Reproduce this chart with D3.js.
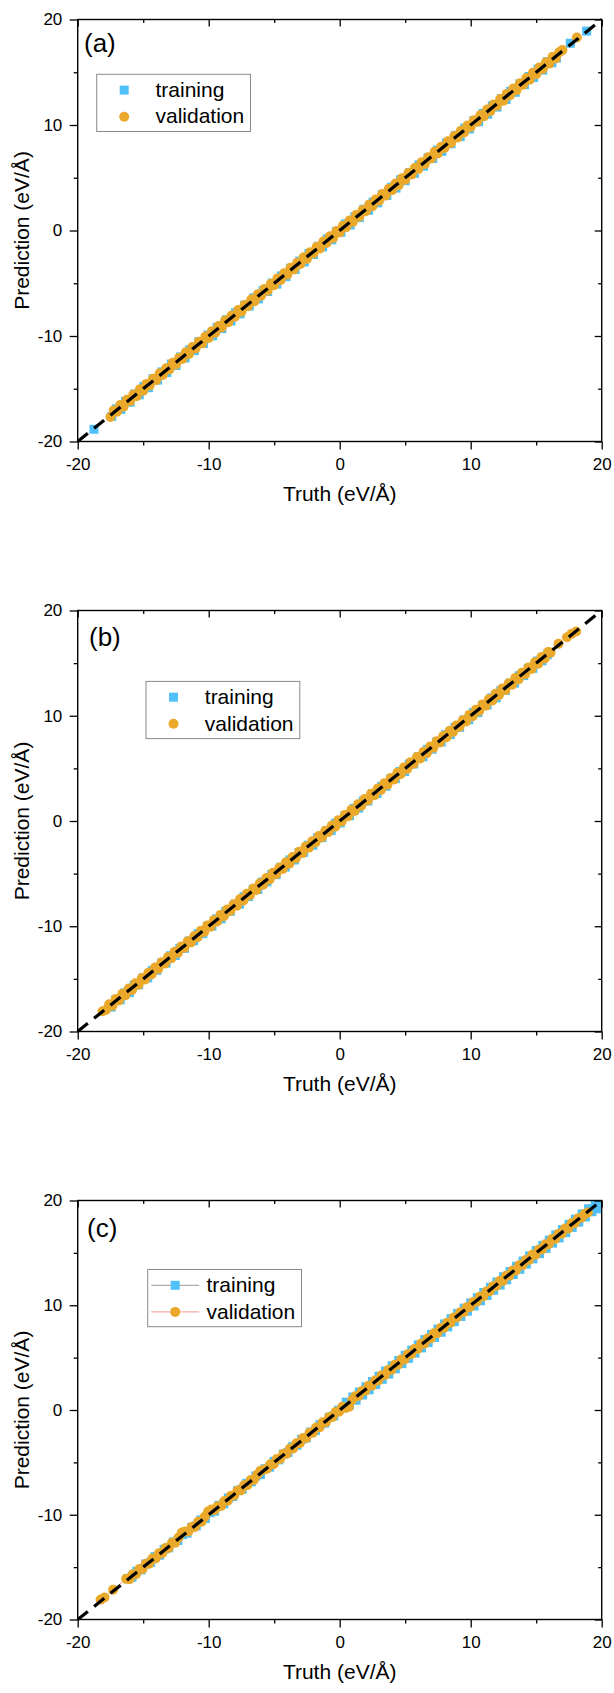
<!DOCTYPE html>
<html><head><meta charset="utf-8">
<script src="https://cdn.jsdelivr.net/npm/d3@7"></script>
<style>
body{margin:0;background:#fff}
svg{display:block}
text{font-family:"Liberation Sans",Arial,Helvetica,sans-serif;fill:#000}
</style>
</head><body>
<svg id="chart" width="614" height="1693"></svg>
<script>
// ---------- data ----------
const majorTicks=[-20,-10,0,10,20];
const minorTicks=[-15,-5,5,15];
const seriesNames=["training","validation"];
const panelLabels=["(a)","(b)","(c)"];
const xTitle="Truth (eV/Å)";
const yTitle="Prediction (eV/Å)";

// [truth, prediction]
const trainingA=[[-18.76,-18.84],
[-17.4,-17.62],[-17.05,-16.9],[-16.7,-16.95],[-16.35,-16.2],[-16.0,-16.28],[-15.65,-15.5],[-15.3,-15.58],[-14.95,-14.78],[-14.6,-14.9],[-14.25,-14.05],[-13.9,-14.18],[-13.55,-13.4],[-13.2,-13.46],[-12.85,-12.66],[-12.5,-12.8],[-12.15,-11.98],[-11.8,-12.08],[-11.45,-11.3],[-11.1,-11.38],[-10.75,-10.55],[-10.4,-10.7],[-10.05,-9.9],[-9.7,-9.98],[-9.35,-9.18],[-9.0,-9.3],[-8.65,-8.46],[-8.3,-8.58],[-7.95,-7.8],[-7.6,-7.9],[-7.25,-7.08],[-6.9,-7.16],[-6.55,-6.38],[-6.2,-6.48],[-5.85,-5.7],[-5.5,-5.78],[-5.15,-4.98],[-4.8,-5.08],[-4.45,-4.3],[-4.1,-4.38],[-3.75,-3.58],[-3.4,-3.68],[-3.05,-2.9],[-2.7,-2.98],[-2.35,-2.18],[-2.0,-2.28],[-1.65,-1.5],[-1.3,-1.56],[-0.95,-0.8],[-0.6,-0.88],[-0.25,-0.1],[0.1,-0.16],[0.45,0.62],[0.8,0.52],[1.15,1.3],[1.5,1.22],[1.85,2.02],[2.2,1.92],[2.55,2.7],[2.9,2.62],[3.25,3.42],[3.6,3.32],[3.95,4.1],[4.3,4.02],[4.65,4.82],[5.0,4.72],[5.35,5.5],[5.7,5.42],[6.05,6.22],[6.4,6.1],[6.75,6.9],[7.1,6.82],[7.45,7.62],[7.8,7.5],[8.15,8.3],[8.5,8.22],[8.85,9.02],[9.2,8.9],[9.55,9.7],[9.9,9.62],[10.25,10.42],[10.6,10.3],[10.95,11.1],[11.3,11.02],[11.65,11.82],[12.0,11.7],[12.35,12.5],[12.7,12.42],[13.05,13.2],[13.4,13.1],[13.75,13.9],[14.1,13.82],[14.45,14.6],[14.8,14.5],[15.15,15.3],[15.5,15.2],[15.85,16.0],[16.2,15.9],[16.55,16.35],
[17.6,17.75],[18.85,18.9]];

const validationA=[[-17.5,-17.68],
[-17.25,-17.05],[-17.0,-17.18],[-16.75,-16.54],[-16.5,-16.7],[-16.25,-16.05],[-16.0,-16.18],[-15.75,-15.54],[-15.5,-15.7],
[-15.25,-15.05],[-15.0,-15.18],[-14.75,-14.54],[-14.5,-14.7],[-14.25,-14.05],[-14.0,-14.18],[-13.75,-13.54],[-13.5,-13.7],
[-13.25,-13.05],[-13.0,-13.18],[-12.75,-12.54],[-12.5,-12.7],[-12.25,-12.05],[-12.0,-12.18],[-11.75,-11.54],[-11.5,-11.7],
[-11.25,-11.05],[-11.0,-11.18],[-10.75,-10.54],[-10.5,-10.7],[-10.25,-10.05],[-10.0,-10.18],[-9.75,-9.54],[-9.5,-9.7],
[-9.25,-9.05],[-9.0,-9.18],[-8.75,-8.54],[-8.5,-8.7],[-8.25,-8.05],[-8.0,-8.18],[-7.75,-7.54],[-7.5,-7.7],
[-7.25,-7.05],[-7.0,-7.18],[-6.75,-6.54],[-6.5,-6.7],[-6.25,-6.05],[-6.0,-6.18],[-5.75,-5.54],[-5.5,-5.7],
[-5.25,-5.05],[-5.0,-5.18],[-4.75,-4.54],[-4.5,-4.7],[-4.25,-4.05],[-4.0,-4.18],[-3.75,-3.54],[-3.5,-3.7],
[-3.25,-3.05],[-3.0,-3.18],[-2.75,-2.54],[-2.5,-2.7],[-2.25,-2.05],[-2.0,-2.18],[-1.75,-1.54],[-1.5,-1.7],
[-1.25,-1.05],[-1.0,-1.18],[-0.75,-0.54],[-0.5,-0.7],[-0.25,-0.05],[0.0,-0.18],[0.25,0.46],[0.5,0.3],
[0.75,0.95],[1.0,0.82],[1.25,1.46],[1.5,1.3],[1.75,1.95],[2.0,1.82],[2.25,2.46],[2.5,2.3],
[2.75,2.95],[3.0,2.82],[3.25,3.46],[3.5,3.3],[3.75,3.95],[4.0,3.82],[4.25,4.46],[4.5,4.3],
[4.75,4.95],[5.0,4.82],[5.25,5.46],[5.5,5.3],[5.75,5.95],[6.0,5.82],[6.25,6.46],[6.5,6.3],
[6.75,6.95],[7.0,6.82],[7.25,7.46],[7.5,7.3],[7.75,7.95],[8.0,7.82],[8.25,8.46],[8.5,8.3],
[8.75,8.95],[9.0,8.82],[9.25,9.46],[9.5,9.3],[9.75,9.95],[10.0,9.82],[10.25,10.46],[10.5,10.3],
[10.75,10.95],[11.0,10.82],[11.25,11.46],[11.5,11.3],[11.75,11.95],[12.0,11.82],[12.25,12.46],[12.5,12.3],
[12.75,12.95],[13.0,12.82],[13.25,13.46],[13.5,13.3],[13.75,13.95],[14.0,13.82],[14.25,14.46],[14.5,14.3],
[14.75,14.95],[15.0,14.82],[15.25,15.46],[15.5,15.3],[15.75,15.95],[16.0,15.82],[16.25,16.46],[16.5,16.3],
[16.75,16.9],[17.0,17.1],[18.1,18.3]];

const trainingB=[[-17.45,-17.68],[-17.1,-17.0],[-16.75,-16.98],[-16.4,-16.32],[-16.05,-16.3],[-15.7,-15.6],[-15.35,-15.56],[-15.0,-14.9],[-14.65,-14.9],[-14.3,-14.2],[-13.95,-14.18],[-13.6,-13.5],[-13.25,-13.5],[-12.9,-12.8],[-12.55,-12.78],[-12.2,-12.1],[-11.85,-12.1],[-11.5,-11.4],[-11.15,-11.38],[-10.8,-10.7],[-10.45,-10.7],[-10.1,-10.0],[-9.75,-9.98],[-9.4,-9.3],[-9.05,-9.3],[-8.7,-8.6],[-8.35,-8.58],[-8.0,-7.9],[-7.65,-7.9],[-7.3,-7.2],[-6.95,-7.18],[-6.6,-6.5],[-6.25,-6.5],[-5.9,-5.8],[-5.55,-5.78],[-5.2,-5.1],[-4.85,-5.1],[-4.5,-4.4],[-4.15,-4.38],[-3.8,-3.7],[-3.45,-3.7],[-3.1,-3.0],[-2.75,-2.98],[-2.4,-2.3],[-2.05,-2.3],[-1.7,-1.6],[-1.35,-1.58],[-1.0,-0.9],[-0.65,-0.9],[-0.3,-0.2],[0.05,-0.18],[0.4,0.5],[0.75,0.5],[1.1,1.2],[1.45,1.22],[1.8,1.9],[2.15,1.9],[2.5,2.6],[2.85,2.62],[3.2,3.3],[3.55,3.3],[3.9,4.0],[4.25,4.02],[4.6,4.7],[4.95,4.7],[5.3,5.4],[5.65,5.42],[6.0,6.1],[6.35,6.1],[6.7,6.8],[7.05,6.82],[7.4,7.5],[7.75,7.5],[8.1,8.2],[8.45,8.22],[8.8,8.9],[9.15,8.9],[9.5,9.6],[9.85,9.62],[10.2,10.3],[10.55,10.3],[10.9,11.0],[11.25,11.02],[11.6,11.7],[11.95,11.7],[12.3,12.4],[12.65,12.42],[13.0,13.1],[13.35,13.1],[13.7,13.8],[14.05,13.82],[14.4,14.5],[14.75,14.5],[15.1,15.2],[15.45,15.22],[15.85,15.8]];

const validationB=[[-18.1,-18.08],[-17.85,-17.95],[-17.6,-17.42],[-17.35,-17.55],[-17.1,-16.92],[-16.85,-17.05],[-16.6,-16.42],[-16.35,-16.55],[-16.1,-15.92],[-15.85,-16.05],[-15.6,-15.42],[-15.35,-15.55],[-15.1,-14.92],[-14.85,-15.05],[-14.6,-14.42],[-14.35,-14.55],[-14.1,-13.92],[-13.85,-14.05],[-13.6,-13.42],[-13.35,-13.55],[-13.1,-12.92],[-12.85,-13.05],[-12.6,-12.42],[-12.35,-12.55],[-12.1,-11.92],[-11.85,-12.05],[-11.6,-11.42],[-11.35,-11.55],[-11.1,-10.92],[-10.85,-11.05],[-10.6,-10.42],[-10.35,-10.55],[-10.1,-9.92],[-9.85,-10.05],[-9.6,-9.42],[-9.35,-9.55],[-9.1,-8.92],[-8.85,-9.05],[-8.6,-8.42],[-8.35,-8.55],[-8.1,-7.92],[-7.85,-8.05],[-7.6,-7.42],[-7.35,-7.55],[-7.1,-6.92],[-6.85,-7.05],[-6.6,-6.42],[-6.35,-6.55],[-6.1,-5.92],[-5.85,-6.05],[-5.6,-5.42],[-5.35,-5.55],[-5.1,-4.92],[-4.85,-5.05],[-4.6,-4.42],[-4.35,-4.55],[-4.1,-3.92],[-3.85,-4.05],[-3.6,-3.42],[-3.35,-3.55],[-3.1,-2.92],[-2.85,-3.05],[-2.6,-2.42],[-2.35,-2.55],[-2.1,-1.92],[-1.85,-2.05],[-1.6,-1.42],[-1.35,-1.55],[-1.1,-0.92],[-0.85,-1.05],[-0.6,-0.42],[-0.35,-0.55],[-0.1,0.08],[0.15,-0.05],[0.4,0.58],[0.65,0.45],[0.9,1.08],[1.15,0.95],[1.4,1.58],[1.65,1.45],[1.9,2.08],[2.15,1.95],[2.4,2.58],[2.65,2.45],[2.9,3.08],[3.15,2.95],[3.4,3.58],[3.65,3.45],[3.9,4.08],[4.15,3.95],[4.4,4.58],[4.65,4.45],[4.9,5.08],[5.15,4.95],[5.4,5.58],[5.65,5.45],[5.9,6.08],[6.15,5.95],[6.4,6.58],[6.65,6.45],[6.9,7.08],[7.15,6.95],[7.4,7.58],[7.65,7.45],[7.9,8.08],[8.15,7.95],[8.4,8.58],[8.65,8.45],[8.9,9.08],[9.15,8.95],[9.4,9.58],[9.65,9.45],[9.9,10.08],[10.15,9.95],[10.4,10.58],[10.65,10.45],[10.9,11.08],[11.15,10.95],[11.4,11.58],[11.65,11.45],[11.9,12.08],[12.15,11.95],[12.4,12.58],[12.65,12.45],[12.9,13.08],[13.15,12.95],[13.4,13.58],[13.65,13.45],[13.9,14.08],[14.15,13.95],[14.4,14.58],[14.65,14.45],[14.9,15.08],[15.15,14.95],[15.4,15.58],[15.65,15.45],[15.9,16.05],[16.1,16.0],[16.7,16.83],[17.35,17.45],[17.7,17.78],[18.05,18.0]];

const trainingC=[[-16.2,-16.1],[-15.85,-15.95],[-15.5,-15.4],[-15.15,-15.26],[-14.8,-14.7],[-14.45,-14.56],[-14.1,-14.0],[-13.75,-13.86],[-13.4,-13.3],[-13.05,-13.16],[-12.7,-12.6],[-12.35,-12.46],[-12.0,-11.9],[-11.65,-11.76],[-11.3,-11.2],[-10.95,-11.06],[-10.6,-10.5],[-10.25,-10.36],[-9.9,-9.8],[-9.55,-9.66],[-9.2,-9.1],[-8.85,-8.96],[-8.5,-8.4],[-8.15,-8.26],[-7.8,-7.7],[-7.45,-7.56],[-7.1,-7.0],[-6.75,-6.86],[-6.4,-6.3],[-6.05,-6.16],[-5.7,-5.6],[-5.35,-5.46],[-5.0,-4.9],[-4.65,-4.76],[-4.3,-4.2],[-3.95,-4.06],[-3.6,-3.5],[-3.25,-3.36],[-2.9,-2.8],[-2.55,-2.66],[-2.2,-2.1],[-1.85,-1.96],[-1.5,-1.4],[-1.15,-1.26],[-0.8,-0.7],[-0.45,-0.56],[-0.1,-0.02],
[0.25,0.2],[0.5,0.75],[0.75,0.45],[1.0,1.24],[1.25,0.93],[1.5,1.72],[1.75,1.43],[2.0,2.22],[2.25,1.93],[2.5,2.72],[2.75,2.43],[3.0,3.22],[3.25,2.93],[3.5,3.72],[3.75,3.43],[4.0,4.22],[4.25,3.93],[4.5,4.72],[4.75,4.43],[5.0,5.22],[5.25,4.93],[5.5,5.72],[5.75,5.43],[6.0,6.22],[6.25,5.93],[6.5,6.72],[6.75,6.43],[7.0,7.22],[7.25,6.93],[7.5,7.72],[7.75,7.43],[8.0,8.22],[8.25,7.93],[8.5,8.72],[8.75,8.43],[9.0,9.22],[9.25,8.93],[9.5,9.72],[9.75,9.43],[10.0,10.22],[10.25,9.93],[10.5,10.72],[10.75,10.43],[11.0,11.22],[11.25,10.93],[11.5,11.72],[11.75,11.43],[12.0,12.22],[12.25,11.93],[12.5,12.72],[12.75,12.43],[13.0,13.22],[13.25,12.93],[13.5,13.72],[13.75,13.43],[14.0,14.22],[14.25,13.93],[14.5,14.72],[14.75,14.43],[15.0,15.22],[15.25,14.93],[15.5,15.72],[15.75,15.43],[16.0,16.22],[16.25,15.93],[16.5,16.72],[16.75,16.43],[17.0,17.22],[17.25,16.93],[17.5,17.72],[17.75,17.43],[18.0,18.22],[18.25,17.93],[18.5,18.72],[18.75,18.43],[19.0,19.22],[19.25,18.93],[19.5,19.72],[19.75,19.43],[19.95,19.8],[19.9,19.2]];

const validationC=[[-18.25,-18.1],[-17.95,-17.9],[-17.3,-17.15],
[-16.3,-16.12],[-16.05,-16.15],[-15.8,-15.68],[-15.55,-15.67],[-15.3,-15.18],[-15.05,-15.17],[-14.8,-14.68],[-14.55,-14.67],[-14.3,-14.18],[-14.05,-14.17],[-13.8,-13.68],[-13.55,-13.67],[-13.3,-13.18],[-13.05,-13.17],[-12.8,-12.68],[-12.55,-12.67],[-12.3,-12.18],[-12.05,-11.7],[-11.8,-11.6],[-11.55,-11.6],[-11.3,-11.18],[-11.05,-11.17],[-10.8,-10.68],[-10.55,-10.67],[-10.3,-10.18],[-10.05,-9.7],[-9.8,-9.5],[-9.55,-9.55],[-9.3,-9.18],[-9.05,-9.17],[-8.8,-8.68],[-8.55,-8.67],[-8.3,-8.18],[-8.05,-8.17],[-7.8,-7.68],[-7.55,-7.67],[-7.3,-7.18],[-7.05,-7.17],[-6.8,-6.68],[-6.55,-6.67],[-6.3,-6.18],[-6.05,-5.8],[-5.8,-5.7],[-5.55,-5.6],[-5.3,-5.18],[-5.05,-5.17],[-4.8,-4.68],[-4.55,-4.67],[-4.3,-4.18],[-4.05,-4.17],[-3.8,-3.68],[-3.55,-3.67],[-3.3,-3.18],[-3.05,-3.17],[-2.8,-2.68],[-2.55,-2.67],[-2.3,-2.18],[-2.05,-2.17],[-1.8,-1.68],[-1.55,-1.67],[-1.3,-1.18],[-1.05,-1.17],[-0.8,-0.68],[-0.55,-0.67],[-0.3,-0.18],[-0.05,-0.17],[0.2,0.32],[0.45,0.2],[0.7,0.3],[0.95,0.95],[1.2,1.32],[1.45,1.33],[1.7,1.82],[1.95,1.83],[2.2,2.32],[2.45,2.33],[2.7,2.82],[2.95,2.83],[3.2,3.32],[3.45,3.33],[3.7,3.82],[3.95,3.83],[4.2,4.32],[4.45,4.33],[4.7,4.82],[4.95,4.83],[5.2,5.32],[5.45,5.33],[5.7,5.82],[5.95,5.83],[6.2,6.32],[6.45,6.33],[6.7,6.82],[6.95,6.83],[7.2,7.32],[7.45,7.33],[7.7,7.82],[7.95,7.83],[8.2,8.32],[8.45,8.33],[8.7,8.82],[8.95,8.83],[9.2,9.32],[9.45,9.33],[9.7,9.82],[9.95,9.83],[10.2,10.32],[10.45,10.33],[10.7,10.82],[10.95,10.83],[11.2,11.32],[11.45,11.33],[11.7,11.82],[11.95,11.83],[12.2,12.32],[12.45,12.33],[12.7,12.82],[12.95,12.83],[13.2,13.32],[13.45,13.33],[13.7,13.82],[13.95,13.83],[14.2,14.32],[14.45,14.33],[14.7,14.82],[14.95,14.83],[15.2,15.32],[15.45,15.33],[15.7,15.82],[15.95,15.83],[16.2,16.32],[16.45,16.33],[16.7,16.82],[16.95,16.83],[17.2,17.32],[17.45,17.33],[17.7,17.82],[17.95,17.83],[18.2,18.3],[18.45,18.35],[18.7,18.7],[18.95,18.85]];

// ---------- styling ----------
const BLUE="#4FC1F8", ORANGE="#EBA92B";
const TRAIN_LINE="#8f8f8f", VAL_LINE="#F08A8A";

const panels=[
 {key:"a",label:panelLabels[0],train:trainingA,val:validationA,lines:false,
  l:77.7,r:601.7,t:19.5,b:441.5,lx:84,ly:52,legX:96.7,legY:74.3},
 {key:"b",label:panelLabels[1],train:trainingB,val:validationB,lines:false,
  l:77.7,r:601.7,t:610.5,b:1031.5,lx:89,ly:646,legX:146,legY:681.4},
 {key:"c",label:panelLabels[2],train:trainingC,val:validationC,lines:true,
  l:77.7,r:601.7,t:1200.5,b:1619.5,lx:87,ly:1237,legX:147.7,legY:1269.5}
];

const svg=d3.select("#chart");
const defs=svg.append("defs");

function styleAxis(sel){
  sel.select(".domain").remove();
  sel.selectAll(".tick line").attr("stroke","#000").attr("stroke-width",1.3);
  sel.selectAll("text").attr("font-size",17).attr("font-family",'"Liberation Sans",Arial,sans-serif').attr("fill","#000");
  sel.attr("font-family",null);
}

function drawPanel(cfg){
  const g=svg.append("g");
  const x=d3.scaleLinear().domain([-20,20]).range([cfg.l,cfg.r]);
  const y=d3.scaleLinear().domain([-20,20]).range([cfg.b,cfg.t]);
  const clipId="clip-"+cfg.key;
  defs.append("clipPath").attr("id",clipId).append("rect")
    .attr("x",cfg.l).attr("y",cfg.t).attr("width",cfg.r-cfg.l).attr("height",cfg.b-cfg.t);
  const plot=g.append("g").attr("clip-path",`url(#${clipId})`);
  const line=d3.line().x(d=>x(d[0])).y(d=>y(d[1]));

  if(cfg.lines){
    plot.append("path").datum(cfg.train).attr("d",line).attr("fill","none")
      .attr("stroke",TRAIN_LINE).attr("stroke-width",0.8);
  }
  plot.selectAll("rect.tr").data(cfg.train).join("rect").attr("class","tr")
    .attr("x",d=>x(d[0])-4.5).attr("y",d=>y(d[1])-4.5)
    .attr("width",9).attr("height",9).attr("fill",BLUE);
  if(cfg.lines){
    plot.append("path").datum(cfg.val).attr("d",line).attr("fill","none")
      .attr("stroke",VAL_LINE).attr("stroke-width",0.8);
  }
  plot.selectAll("circle.va").data(cfg.val).join("circle").attr("class","va")
    .attr("cx",d=>x(d[0])).attr("cy",d=>y(d[1])).attr("r",5).attr("fill",ORANGE);

  // y = x reference line
  g.append("line").attr("x1",x(-20)).attr("y1",y(-20)).attr("x2",x(20)).attr("y2",y(20))
    .attr("stroke","#000").attr("stroke-width",3.2).attr("stroke-dasharray","13,8");

  // axes
  const fmt=d=>String(d);
  g.append("g").attr("transform",`translate(0,${cfg.b})`)
    .call(d3.axisBottom(x).tickValues(majorTicks).tickSize(8).tickPadding(8.5).tickFormat(fmt).tickSizeOuter(0)).call(styleAxis);
  g.append("g").attr("transform",`translate(0,${cfg.b})`)
    .call(d3.axisBottom(x).tickValues(minorTicks).tickSize(4).tickFormat("").tickSizeOuter(0)).call(styleAxis);
  g.append("g").attr("transform",`translate(${cfg.l},0)`)
    .call(d3.axisLeft(y).tickValues(majorTicks).tickSize(8).tickPadding(7.4).tickFormat(fmt).tickSizeOuter(0)).call(styleAxis);
  g.append("g").attr("transform",`translate(${cfg.l},0)`)
    .call(d3.axisLeft(y).tickValues(minorTicks).tickSize(4).tickFormat("").tickSizeOuter(0)).call(styleAxis);
  g.append("g").attr("transform",`translate(0,${cfg.t})`)
    .call(d3.axisTop(x).tickValues(majorTicks).tickSize(-7).tickFormat("").tickSizeOuter(0)).call(styleAxis);
  g.append("g").attr("transform",`translate(0,${cfg.t})`)
    .call(d3.axisTop(x).tickValues(minorTicks).tickSize(-3.5).tickFormat("").tickSizeOuter(0)).call(styleAxis);
  g.append("g").attr("transform",`translate(${cfg.r},0)`)
    .call(d3.axisRight(y).tickValues(majorTicks).tickSize(-7).tickFormat("").tickSizeOuter(0)).call(styleAxis);
  g.append("g").attr("transform",`translate(${cfg.r},0)`)
    .call(d3.axisRight(y).tickValues(minorTicks).tickSize(-3.5).tickFormat("").tickSizeOuter(0)).call(styleAxis);

  // frame
  g.append("rect").attr("x",cfg.l).attr("y",cfg.t).attr("width",cfg.r-cfg.l).attr("height",cfg.b-cfg.t)
    .attr("fill","none").attr("stroke","#000").attr("stroke-width",1.4);

  // titles
  g.append("text").attr("x",(cfg.l+cfg.r)/2).attr("y",cfg.b+59.5).attr("text-anchor","middle")
    .attr("font-size",21).text(xTitle);
  g.append("text").attr("transform",`translate(29,${(cfg.t+cfg.b)/2}) rotate(-90)`)
    .attr("text-anchor","middle").attr("font-size",21).text(yTitle);
  g.append("text").attr("x",cfg.lx).attr("y",cfg.ly).attr("font-size",26).text(cfg.label);

  // legend
  const lg=g.append("g").attr("transform",`translate(${cfg.legX},${cfg.legY})`);
  lg.append("rect").attr("x",0).attr("y",0).attr("width",153.8).attr("height",57.2)
    .attr("fill","#fff").attr("stroke","#8a8a8a").attr("stroke-width",1);
  const rows=[15.8,42.4];
  if(cfg.lines){
    lg.append("line").attr("x1",3.5).attr("x2",51.5).attr("y1",rows[0]).attr("y2",rows[0])
      .attr("stroke",TRAIN_LINE).attr("stroke-width",0.9);
    lg.append("line").attr("x1",3.5).attr("x2",51.5).attr("y1",rows[1]).attr("y2",rows[1])
      .attr("stroke",VAL_LINE).attr("stroke-width",0.9);
  }
  lg.append("rect").attr("x",27.5-4.5).attr("y",rows[0]-4.5).attr("width",9).attr("height",9).attr("fill",BLUE);
  lg.append("circle").attr("cx",27.5).attr("cy",rows[1]).attr("r",5).attr("fill",ORANGE);
  seriesNames.forEach((n,i)=>{
    lg.append("text").attr("x",58.8).attr("y",rows[i]+6.8).attr("font-size",21).text(n);
  });
}

panels.forEach(drawPanel);
</script>
</body></html>
